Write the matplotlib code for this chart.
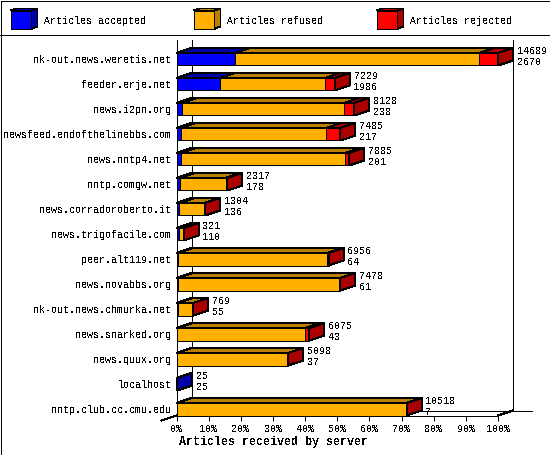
import matplotlib
matplotlib.use("Agg")
import matplotlib.pyplot as plt
from matplotlib.patches import Polygon, Rectangle

plt.rcParams['font.family'] = ['Liberation Mono', 'DejaVu Sans Mono']
plt.rcParams['text.antialiased'] = False
plt.rcParams['patch.antialiased'] = False
plt.rcParams['lines.antialiased'] = False

servers = ["nk-out.news.weretis.net", "feeder.erje.net", "news.i2pn.org",
           "newsfeed.endofthelinebbs.com", "news.nntp4.net", "nntp.comgw.net",
           "news.corradoroberto.it", "news.trigofacile.com", "peer.alt119.net",
           "news.novabbs.org", "nk-out.news.chmurka.net", "news.snarked.org",
           "news.quux.org", "localhost", "nntp.club.cc.cmu.edu"]
accepted = [2670, 1986, 238, 217, 201, 178, 136, 110, 64, 61, 55, 43, 37, 25, 7]
refused = [11150, 4786, 7433, 6613, 7487, 2064, 1123, 171, 6817, 7397, 706, 5849, 5049, 0, 10491]
rejected = [869, 457, 457, 655, 197, 75, 45, 40, 75, 20, 8, 183, 12, 0, 20]
legend_names = ["Articles accepted", "Articles refused", "Articles rejected"]
colors = ["#0000ff", "#ffb000", "#ff0000"]
dark = ["#0000aa", "#bb8000", "#aa0000"]

W, H = 550, 455
lw = 0.72  # one pixel
DX = 15 / 3.215  # depth in percent
DY = 0.2  # depth in rows
BAR_H = 0.5
FS = 7.2

fig = plt.figure(figsize=(W / 100, H / 100), dpi=100)

# frame and legend, in pixels
bg = fig.add_axes([0, 0, 1, 1])
bg.set_xlim(0, W)
bg.set_ylim(H, 0)
bg.axis("off")
bg.add_patch(Rectangle((0.5, 0.5), W - 1, H - 1, fc="white", ec="black", lw=lw))
bg.plot([0, W], [35, 35], color="black", lw=lw)
for x0, name, c, d in zip([10.5, 193.5, 376.5], legend_names, colors, dark):
    bg.add_patch(Rectangle((x0, 10.5), 21, 18, fc=c, ec="black", lw=lw))
    bg.add_patch(Polygon([(x0 + 21, 10.5), (x0 + 27, 8.5), (x0 + 27, 26.5), (x0 + 21, 28.5)],
                         fc=d, ec="black", lw=lw))
    bg.add_patch(Polygon([(x0, 10.5), (x0 + 6, 8.5), (x0 + 27, 8.5), (x0 + 21, 10.5)],
                         fc=d, ec="black", lw=lw))
    bg.text(x0 + 33.5, 20.5, name, fontsize=FS, va="center", ha="left")

ax = fig.add_axes([176.5 / W, (H - 415.5) / H, 321.5 / W, 375.5 / H])
ax.patch.set_alpha(0)
ax.set_xlim(0, 100)
ax.set_ylim(14.25, -0.77)

# back wall and floor
top = -0.77
floor = 14.25
ax.plot([DX, DX], [top, floor - DY], color="black", lw=lw, clip_on=False, zorder=1)
ax.plot([100 + DX, 100 + DX], [top, floor - DY], color="black", lw=lw, clip_on=False, zorder=1)
ax.plot([DX, 100 + 2 * DX + 1.2], [floor - DY, floor - DY], color="black", lw=lw, clip_on=False, zorder=1)
ax.plot([100, 100 + DX], [floor, floor - DY], color="black", lw=lw, clip_on=False, zorder=1)
ax.plot([0, -DX], [floor, floor + DY], color="black", lw=lw, clip_on=False, zorder=1)

max_total = max(a + b + c for a, b, c in zip(accepted, refused, rejected))

for i, server in enumerate(servers):
    parts = [accepted[i], refused[i], rejected[i]]
    left = 0
    y_top = i - BAR_H / 2
    y_bot = i + BAR_H / 2
    last = None
    for val, c, d in zip(parts, colors, dark):
        if val == 0:
            continue
        w = 100 * val / max_total
        ax.barh(i, w, BAR_H, left=left, color=c, edgecolor="black", linewidth=lw, zorder=3,
                clip_on=False)
        ax.add_patch(Polygon([(left, y_top), (left + w, y_top), (left + w + DX, y_top - DY),
                              (left + DX, y_top - DY)], fc=d, ec="black", lw=lw, zorder=3,
                             clip_on=False))
        left += w
        last = d
    ax.add_patch(Polygon([(left, y_top), (left + DX, y_top - DY), (left + DX, y_bot - DY),
                          (left, y_bot)], fc=last, ec="black", lw=lw, zorder=3, clip_on=False))
    total = sum(parts)
    ax.annotate(str(total), (left, i), xytext=(19, 8), textcoords="offset pixels",
                fontsize=FS, va="center", ha="left", zorder=5, annotation_clip=False)
    ax.annotate(str(accepted[i]), (left, i), xytext=(19, -3), textcoords="offset pixels",
                fontsize=FS, va="center", ha="left", zorder=5, annotation_clip=False)

ax.set_yticks(range(len(servers)))
ax.set_yticklabels(servers, fontsize=FS)
ax.tick_params(axis="y", length=0, pad=3.5)
ax.set_xticks(range(0, 101, 10))
ax.set_xticklabels([f"{v}%" for v in range(0, 101, 10)], fontsize=FS)
ax.tick_params(axis="x", length=3.6, width=lw, pad=2.5)
ax.set_xlabel("Articles received by server", fontsize=8.4, fontweight="bold")
ax.xaxis.set_label_coords((273.5 - 176.5) / 321.5, -27 / 375.5, transform=ax.transAxes)
ax.xaxis.label.set_va("center")
for s in ["top", "right"]:
    ax.spines[s].set_visible(False)
ax.spines["left"].set_linewidth(lw)
ax.spines["bottom"].set_linewidth(lw)

fig.savefig("out.png", dpi=100)
